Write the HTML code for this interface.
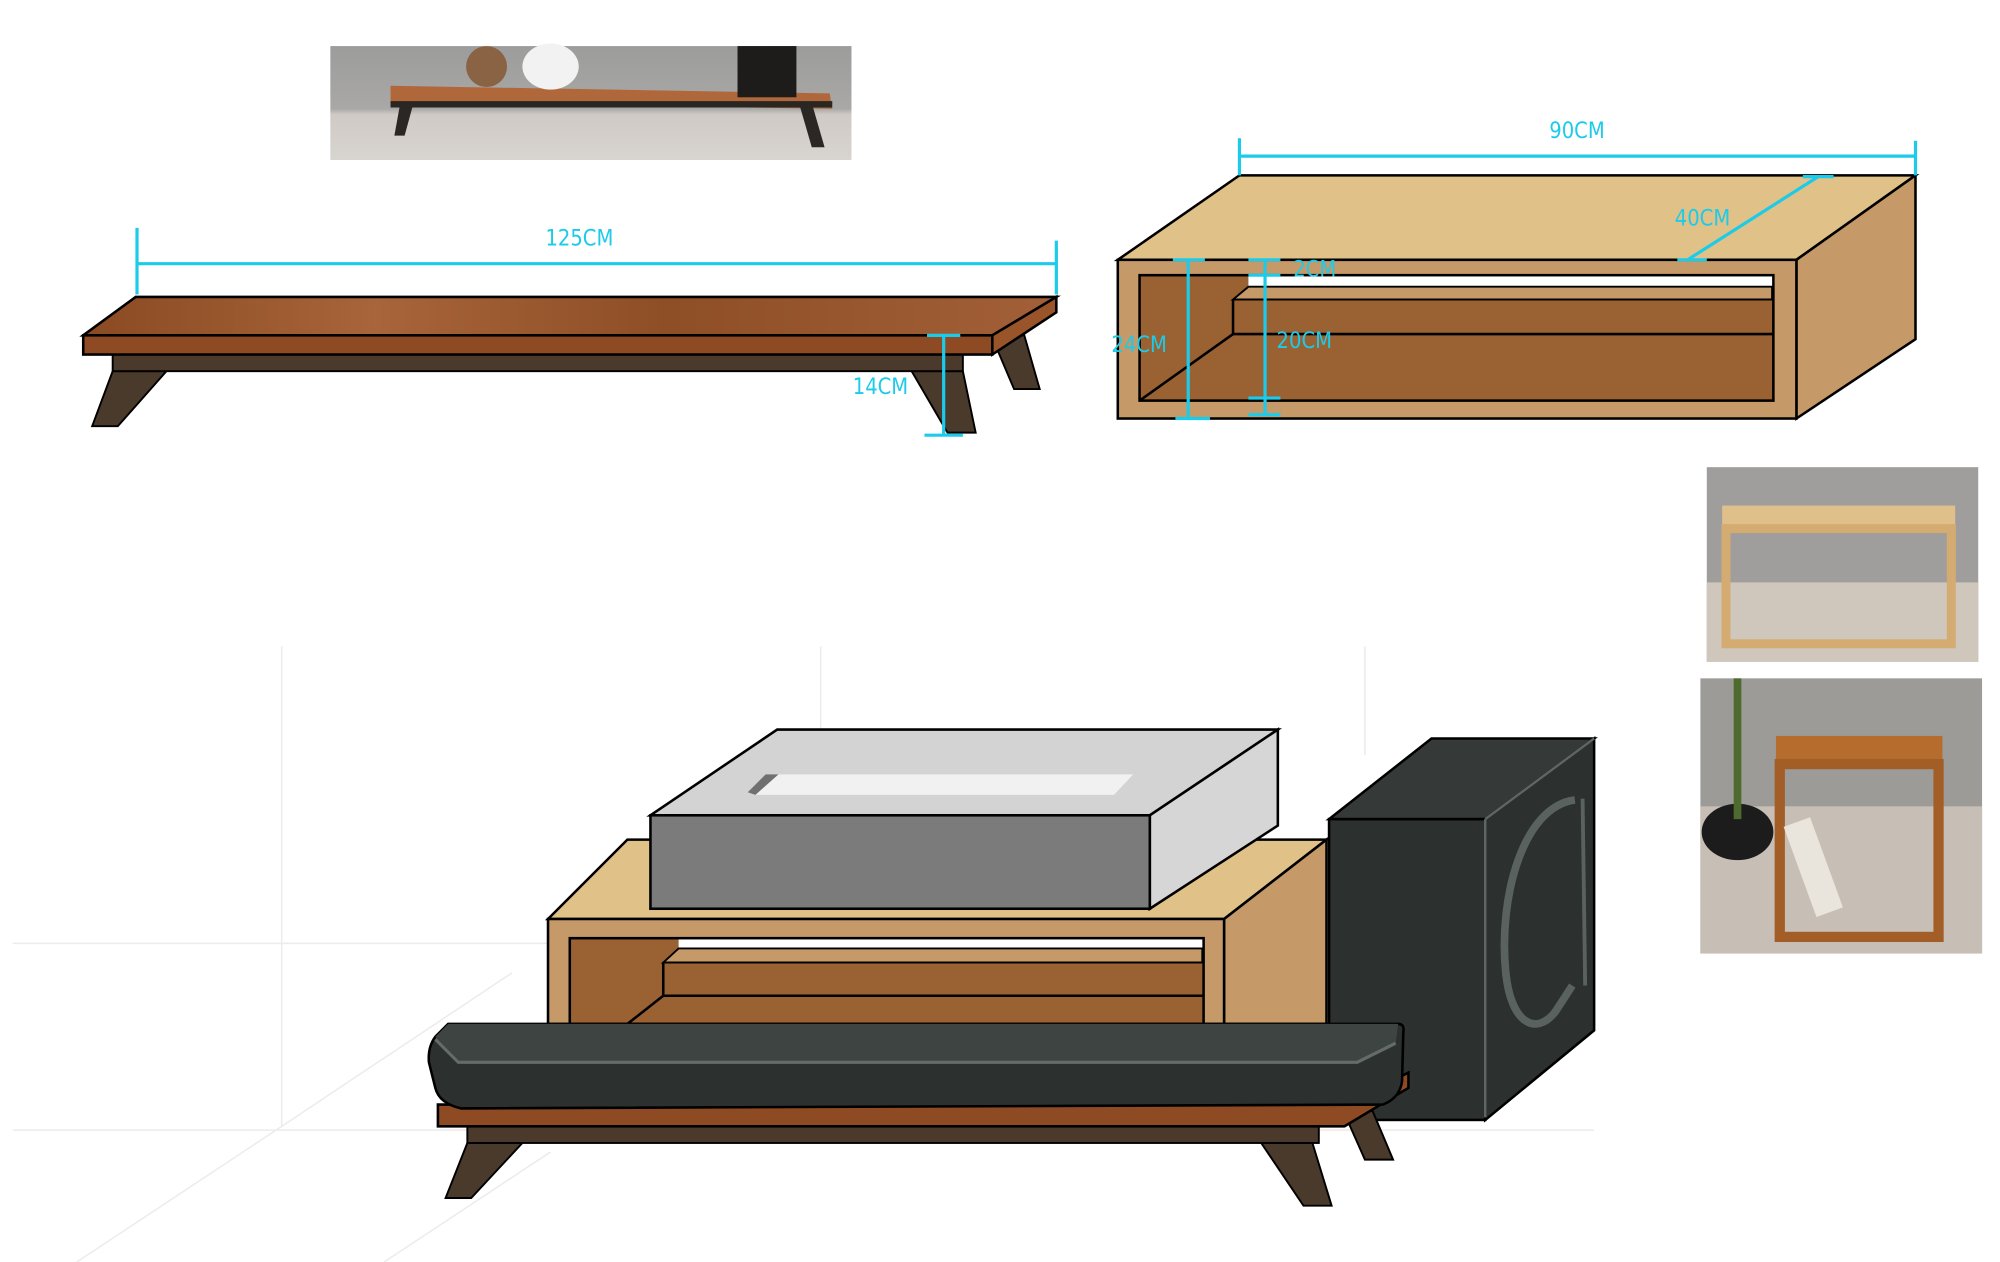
<!DOCTYPE html>
<html><head><meta charset="utf-8"><style>
html,body{margin:0;padding:0;background:#fff;}
svg{display:block;}
text{font-family:"DejaVu Sans Condensed","Liberation Sans",sans-serif;fill:#1ccbea;font-size:17px;}
</style></head><body>
<svg width="2000" height="1262" viewBox="0 0 1562 986" preserveAspectRatio="none" xmlns="http://www.w3.org/2000/svg">
<defs>
<linearGradient id="wood" x1="0" y1="0" x2="1" y2="0">
<stop offset="0" stop-color="#8a4a22"/><stop offset="0.3" stop-color="#a8643a"/><stop offset="0.6" stop-color="#8e4e26"/><stop offset="1" stop-color="#a36038"/></linearGradient>
<linearGradient id="wall" x1="0" y1="0" x2="0" y2="1"><stop offset="0" stop-color="#9c9c9c"/><stop offset="0.55" stop-color="#a9a8a6"/><stop offset="0.6" stop-color="#cfcac5"/><stop offset="1" stop-color="#d8d4cf"/></linearGradient>
</defs>
<!-- top photo -->
<rect x="258" y="36" width="407" height="89" fill="url(#wall)"/>
<polygon points="305,67 648,73 650,85 305,80" fill="#b0683a"/>
<rect x="305" y="79" width="345" height="5" fill="#2a2622"/>
<polygon points="312,84 322,84 316,106 308,106" fill="#2b2725"/>
<polygon points="625,84 635,84 644,115 634,115" fill="#2b2725"/>
<ellipse cx="380" cy="52" rx="16" ry="16" fill="#8a6244"/>
<ellipse cx="430" cy="52" rx="22" ry="18" fill="#f2f2f2"/>
<rect x="576" y="36" width="46" height="40" fill="#1e1c1b"/>
<!-- long bench -->
<polygon points="88,290 130,290 92,333 72,333" fill="#4a3a2c" stroke="#000" stroke-width="1.5"/>
<polygon points="712,290 752,290 762,338 740,338" fill="#4a3a2c" stroke="#000" stroke-width="1.5"/>
<polygon points="775,264 800,262 812,304 792,304" fill="#4a3a2c" stroke="#000" stroke-width="1.5"/>
<rect x="88" y="277" width="664" height="13" fill="#4b3a2c" stroke="#000" stroke-width="1.5"/>
<polygon points="65,262 106,232 825,232 775,262" fill="url(#wood)" stroke="#000" stroke-width="2"/>
<rect x="65" y="262" width="710" height="15" fill="#8e4a22" stroke="#000" stroke-width="2"/>
<polygon points="775,262 825,232 825,244 775,277" fill="#9a5429" stroke="#000" stroke-width="2"/>
<g stroke="#1ccbea" stroke-width="2.5" fill="none">
<line x1="107" y1="206" x2="825" y2="206"/><line x1="107" y1="178" x2="107" y2="230"/><line x1="825" y1="188" x2="825" y2="230"/>
<line x1="737" y1="262" x2="737" y2="340"/><line x1="724" y1="262" x2="750" y2="262"/><line x1="722" y1="340" x2="752" y2="340"/>
</g>
<text x="426" y="192">125CM</text>
<text x="666" y="308">14CM</text>
<!-- top right box -->
<polygon points="873,203 968,137 1496,137 1403,203" fill="#e0c187" stroke="#000" stroke-width="2"/>
<polygon points="1403,203 1496,137 1496,265 1403,327" fill="#c59a68" stroke="#000" stroke-width="2"/>
<rect x="873" y="203" width="530" height="124" fill="#c59a68" stroke="#000" stroke-width="2"/>
<rect x="890" y="215" width="495" height="98" fill="#9a6233" stroke="#000" stroke-width="2"/>
<rect x="975" y="216" width="409" height="8" fill="#fff"/>
<polygon points="975,224 1384,224 1384,234 963,234" fill="#c59a68" stroke="#000" stroke-width="1.5"/>
<line x1="963" y1="234" x2="963" y2="261" stroke="#000" stroke-width="2"/>
<line x1="963" y1="261" x2="1385" y2="261" stroke="#000" stroke-width="2"/>
<line x1="963" y1="261" x2="890" y2="313" stroke="#000" stroke-width="2"/>
<g stroke="#1ccbea" stroke-width="2.5" fill="none">
<line x1="968" y1="122" x2="1496" y2="122"/><line x1="968" y1="108" x2="968" y2="137"/><line x1="1496" y1="110" x2="1496" y2="137"/>
<line x1="1318" y1="203" x2="1420" y2="138"/><line x1="1310" y1="203" x2="1333" y2="203"/><line x1="1408" y1="138" x2="1432" y2="138"/>
<line x1="928" y1="203" x2="928" y2="327"/><line x1="916" y1="203" x2="941" y2="203"/><line x1="918" y1="327" x2="945" y2="327"/>
<line x1="988" y1="203" x2="988" y2="324"/><line x1="975" y1="203" x2="1000" y2="203"/><line x1="975" y1="215" x2="1000" y2="215"/><line x1="975" y1="311" x2="1000" y2="311"/><line x1="975" y1="324" x2="1000" y2="324"/>
</g>
<text x="1210" y="108">90CM</text>
<text x="1308" y="176">40CM</text>
<text x="868" y="275">24CM</text>
<text x="1010" y="216">2CM</text>
<text x="997" y="272">20CM</text>
<!-- right photos -->
<rect x="1333" y="365" width="212" height="152" fill="#a09e9c"/>
<rect x="1333" y="455" width="212" height="62" fill="#cfc6bc"/>
<rect x="1345" y="395" width="182" height="18" fill="#e0c08a"/>
<rect x="1348" y="413" width="176" height="90" fill="none" stroke="#d4ac72" stroke-width="7"/>
<rect x="1328" y="530" width="220" height="215" fill="#9d9b98"/>
<rect x="1328" y="630" width="220" height="115" fill="#c7bfb6"/>
<ellipse cx="1357" cy="650" rx="28" ry="22" fill="#1c1c1c"/>
<rect x="1354" y="530" width="6" height="110" fill="#4f6a2e"/>
<rect x="1387" y="575" width="130" height="22" fill="#b56c2c"/>
<rect x="1390" y="597" width="124" height="135" fill="none" stroke="#a35d26" stroke-width="8"/>
<rect x="1405" y="640" width="22" height="75" fill="#e9e4dc" transform="rotate(-20 1416 677)"/>
<!-- grid -->
<g stroke="#ececec" stroke-width="1.2">
<line x1="220" y1="505" x2="220" y2="880"/><line x1="641" y1="505" x2="641" y2="740"/><line x1="1066" y1="505" x2="1066" y2="590"/>
<line x1="10" y1="737" x2="430" y2="737"/><line x1="10" y1="883" x2="1245" y2="883"/>
<line x1="400" y1="760" x2="220" y2="880"/><line x1="220" y1="880" x2="60" y2="986"/><line x1="430" y1="900" x2="300" y2="986"/>
</g>
<!-- cabinet -->
<polygon points="428,718 490,656 1036,656 956,718" fill="#e0c187" stroke="#000" stroke-width="2"/>
<polygon points="956,718 1036,656 1036,800 956,800" fill="#c59a68" stroke="#000" stroke-width="2"/>
<rect x="428" y="718" width="528" height="82" fill="#c59a68" stroke="#000" stroke-width="2"/>
<rect x="445" y="733" width="495" height="67" fill="#9a6233" stroke="#000" stroke-width="2"/>
<rect x="530" y="734" width="409" height="7" fill="#fff"/>
<polygon points="530,741 939,741 939,752 518,752" fill="#c59a68" stroke="#000" stroke-width="1.5"/>
<line x1="518" y1="752" x2="518" y2="778" stroke="#000" stroke-width="2"/>
<line x1="518" y1="778" x2="940" y2="778" stroke="#000" stroke-width="2"/>
<line x1="518" y1="778" x2="490" y2="800" stroke="#000" stroke-width="2"/>
<!-- projector -->
<polygon points="508,637 607,570 998,570 898,637" fill="#d3d3d3" stroke="#000" stroke-width="2"/>
<polygon points="598,605 885,605 870,621 590,621" fill="#f1f1f1"/>
<polygon points="598,605 608,605 590,621 584,619" fill="#707070"/>
<polygon points="898,637 998,570 998,645 898,710" fill="#d6d6d6" stroke="#000" stroke-width="2"/>
<rect x="508" y="637" width="390" height="73" fill="#7b7b7b" stroke="#000" stroke-width="2"/>
<!-- subwoofer -->
<polygon points="1038,640 1118,577 1245,577 1160,640" fill="#353938" stroke="#000" stroke-width="2"/>
<polygon points="1160,640 1245,577 1245,805 1160,875" fill="#2c302f" stroke="#000" stroke-width="2"/>
<rect x="1038" y="640" width="122" height="235" fill="#2c302f" stroke="#000" stroke-width="2"/>
<line x1="1160" y1="640" x2="1245" y2="577" stroke="#5d6663" stroke-width="2"/>
<line x1="1160" y1="640" x2="1160" y2="873" stroke="#5d6663" stroke-width="2"/>
<path d="M1230,625 C1190,630 1170,700 1176,760 C1180,800 1200,810 1215,790 L1228,770" fill="none" stroke="#5a6260" stroke-width="6"/>
<path d="M1236,624 L1238,770" fill="none" stroke="#5a6260" stroke-width="3"/>
<!-- bottom bench legs -->
<polygon points="365,893 408,893 368,936 348,936" fill="#4a3a2c" stroke="#000" stroke-width="1.5"/>
<polygon points="985,893 1025,893 1040,942 1018,942" fill="#4a3a2c" stroke="#000" stroke-width="1.5"/>
<polygon points="1050,870 1072,868 1088,906 1066,906" fill="#4a3a2c" stroke="#000" stroke-width="1.5"/>
<rect x="365" y="880" width="665" height="13" fill="#4b3a2c" stroke="#000" stroke-width="1.5"/>
<polygon points="342,863 1050,863 1100,838 1100,850 1050,880 342,880" fill="#8e4a22" stroke="#000" stroke-width="2"/>
<!-- soundbar -->
<path d="M350,800 L1092,800 Q1097,800 1096,806 L1095,845 Q1093,858 1080,863 L360,866 Q343,862 340,850 L335,830 Q334,818 340,810 Z" fill="#2c302f" stroke="#000" stroke-width="2"/>
<path d="M340,810 L350,800 L1092,800 L1090,815 L1060,830 L360,830 Z" fill="#3e4442"/>
<path d="M340,812 L358,830 L1060,830 L1090,815" fill="none" stroke="#636c69" stroke-width="2.5"/>
</svg>
</body></html>
